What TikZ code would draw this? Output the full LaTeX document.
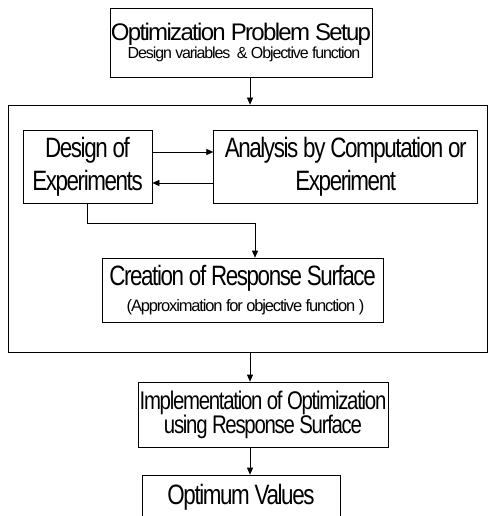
\documentclass[tikz,border=0pt]{standalone}
\usepackage{fontspec}
\setmainfont{Liberation Sans}[LetterSpace=-7]
\newfontfamily\narrowfont{Liberation Sans}[FakeStretch=0.8, LetterSpace=-5]
\usetikzlibrary{arrows.meta,positioning}

\begin{document}
\begin{tikzpicture}[
  x=1pt, y=-1pt,
  box/.style={draw, line width=0.7pt, align=center, inner sep=0pt},
  arrow/.style={-{Triangle[length=7pt, width=6pt]}, line width=0.7pt},
  big/.style={font=\narrowfont\fontsize{28}{33}\selectfont}
]
\useasboundingbox (0,0) rectangle (489,516);
\coordinate (spine) at (250,0);

% setup and loop frame
\node[box, minimum width=262pt, minimum height=69pt,
  font=\fontsize{16}{18.3}\selectfont] (setup) at (241,42.5)
  {{\fontsize{24}{18.3}\selectfont Optimization Problem Setup}\\
   \hspace*{6pt}Design variables \ \& Objective function};
\node[draw, line width=0.7pt, minimum width=479pt, minimum height=247pt, inner sep=0pt] (frame) at (247.5,228.5) {};

\node[box, big, minimum width=129pt, minimum height=73pt] (doe) at (87.5,166.5) {Design of\\Experiments};
\node[box, big, minimum width=264pt, minimum height=73pt, right=61pt of doe] (ana) {Analysis by Computation or\\Experiment};
\node[box, font=\fontsize{16.5}{26}\selectfont, minimum width=281pt, minimum height=64pt] (crs) at (242.5,290)
  {{\narrowfont\fontsize{28}{26}\selectfont Creation of Response Surface}\\
   \hspace*{6pt}(Approximation for objective function )};

% after the loop
\node[box, font=\narrowfont\fontsize{25.5}{24}\selectfont, execute at begin node={\lineskiplimit=-30pt\relax},
  minimum width=250pt, minimum height=65pt] (impl) at (263,414.5) {Implementation of Optimization\\using Response Surface};
\node[box, big, minimum width=198pt, text height=29pt, text depth=40pt, anchor=base] (opt) at (241,504) {Optimum Values};

\draw[arrow] (setup.south -| spine) -- (frame.north -| spine);
\draw[arrow] ([yshift=14.5pt]doe.east) -- ([yshift=14.5pt]ana.west);
\draw[arrow] ([yshift=-16.5pt]ana.west) -- ([yshift=-16.5pt]doe.east);
\draw[arrow] (doe.south) |- ++(0,20) -| ([xshift=12.5pt]crs.north);
\draw[arrow] (frame.south -| spine) -- (impl.north -| spine);
\draw[arrow] (impl.south -| spine) -- (opt.north -| spine);
\end{tikzpicture}
\end{document}
